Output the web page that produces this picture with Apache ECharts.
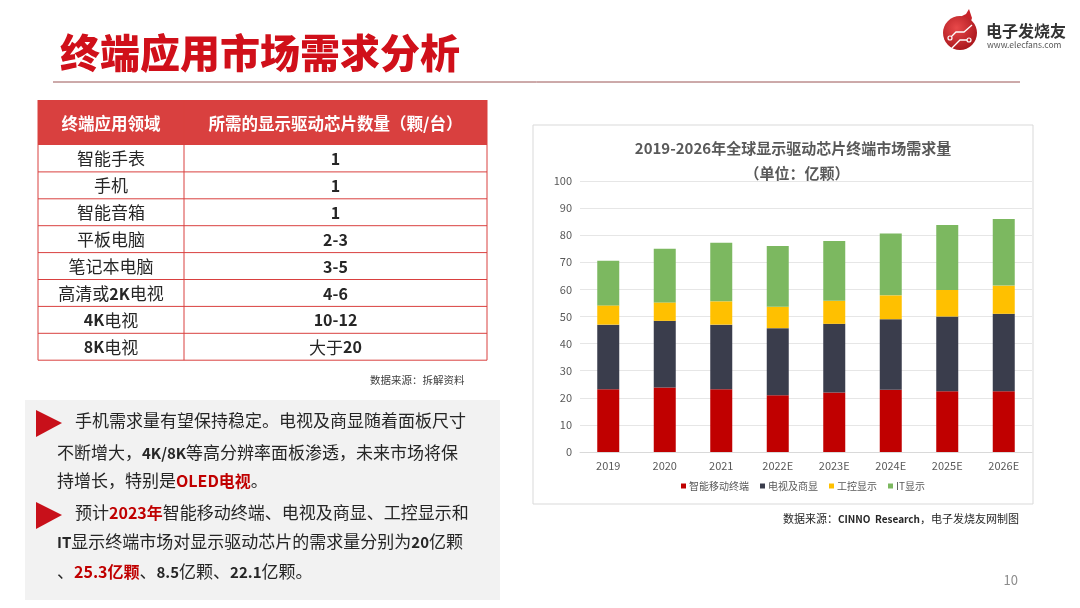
<!DOCTYPE html>
<html>
<head>
<meta charset="utf-8">
<script src="https://cdn.jsdelivr.net/npm/echarts@6/dist/echarts.min.js"></script>
<style>
html,body{margin:0;padding:0;background:#fff;}
#main{width:1080px;height:608px;}
</style>
</head>
<body>
<div id="main"></div>
<script>
// ---- chart data ----
const categories = ['2019', '2020', '2021', '2022E', '2023E', '2024E', '2025E', '2026E'];
const seriesNames = ['智能移动终端', '电视及商显', '工控显示', 'IT显示'];
const mobileTerminal = [23.2, 23.8, 23.2, 20.9, 22.0, 23.0, 22.4, 22.4];
const tvCommercial = [23.8, 24.6, 23.8, 24.8, 25.3, 26.0, 27.6, 28.6];
const industrialDisplay = [7.1, 6.8, 8.6, 7.9, 8.5, 8.8, 9.8, 10.4];
const itDisplay = [16.5, 19.8, 21.6, 22.4, 22.1, 22.8, 24.0, 24.6];
const yTicks = [0, 10, 20, 30, 40, 50, 60, 70, 80, 90, 100];

// ---- table data ----
const tableHeader = ['终端应用领域', '所需的显示驱动芯片数量（颗/台）'];
const tableApps = ['智能手表', '手机', '智能音箱', '平板电脑', '笔记本电脑', '高清或2K电视', '4K电视', '8K电视'];
const tableChips = ['1', '1', '1', '2-3', '3-5', '4-6', '10-12', '大于20'];

const FONT = '"Noto Sans CJK SC", "Noto Sans", sans-serif';
const RED = '#c00000';
const TXT = '#262626';

function richRuns(str) {
  return str.replace(/([A-Za-z0-9\-\.\/]+)|([^A-Za-z0-9\-\.\/]+)/g, function (m, a, b) {
    return a ? '{b|' + a + '}' : '{r|' + b + '}';
  });
}

const graphics = [];

// slide title
graphics.push({
  type: 'text', style: {
    text: '终端应用市场需求分析', x: 60, y: 53, verticalAlign: 'middle',
    fill: '#d0101a', fontSize: 40, fontWeight: 900, fontFamily: FONT
  }
});
graphics.push({
  type: 'line', shape: { x1: 53, y1: 82, x2: 1020, y2: 82 },
  style: { stroke: '#9a5555', lineWidth: 1 }
});

// logo
graphics.push({
  type: 'polygon', shape: { points: [[962, 16], [966, 14], [969, 9], [972, 18], [970, 24], [960, 18]] },
  style: { fill: '#c8242a' }
});
graphics.push({
  type: 'circle', shape: { cx: 960, cy: 33, r: 17 },
  style: {
    fill: {
      type: 'radial', x: 0.4, y: 0.35, r: 0.7,
      colorStops: [{ offset: 0, color: '#e8494a' }, { offset: 1, color: '#a8141a' }]
    }
  }
});
graphics.push({
  type: 'polyline', shape: { points: [[950, 38], [956, 32], [964, 32], [972, 25]] },
  style: { stroke: '#fff', lineWidth: 1.3, fill: null }
});
graphics.push({
  type: 'polyline', shape: { points: [[952, 48], [960, 40], [968, 40]] },
  style: { stroke: '#fff', lineWidth: 1.3, fill: null }
});
graphics.push({ type: 'circle', shape: { cx: 950, cy: 38, r: 2 }, style: { fill: '#c8242a', stroke: '#fff', lineWidth: 1.2 } });
graphics.push({ type: 'circle', shape: { cx: 969, cy: 40, r: 2 }, style: { fill: '#c8242a', stroke: '#fff', lineWidth: 1.2 } });
graphics.push({
  type: 'text', style: {
    text: '电子发烧友', x: 986, y: 31, verticalAlign: 'middle',
    fill: '#333', fontSize: 16, fontWeight: 'bold', fontFamily: FONT
  }
});
graphics.push({
  type: 'text', style: {
    text: 'www.elecfans.com', x: 987, y: 45, verticalAlign: 'middle',
    fill: '#555', fontSize: 8.5, fontFamily: FONT
  }
});

// table
const tL = 38, tR = 487, tMid = 184, hTop = 100, hBot = 145, rowH = 26.9;
graphics.push({ type: 'rect', shape: { x: tL, y: hTop, width: tR - tL, height: hBot - hTop }, style: { fill: '#d9403f' } });
graphics.push({
  type: 'text', style: {
    text: tableHeader[0], x: (tL + tMid) / 2, y: (hTop + hBot) / 2 + 1, align: 'center', verticalAlign: 'middle',
    fill: '#fff', fontSize: 16.5, fontWeight: 'bold', fontFamily: FONT
  }
});
graphics.push({
  type: 'text', style: {
    text: tableHeader[1], x: (tMid + tR) / 2, y: (hTop + hBot) / 2 + 1, align: 'center', verticalAlign: 'middle',
    fill: '#fff', fontSize: 16.5, fontWeight: 'bold', fontFamily: FONT
  }
});
const richCell = {
  r: { fontSize: 17, fontFamily: FONT, fill: TXT, color: TXT },
  b: { fontSize: 16, fontFamily: FONT, fontWeight: 'bold', fill: TXT, color: TXT }
};
for (let i = 0; i < tableApps.length; i++) {
  const yTop = hBot + i * rowH;
  const cy = yTop + rowH / 2 + 0.5;
  graphics.push({
    type: 'text', style: {
      text: richRuns(tableApps[i]), rich: richCell, x: (tL + tMid) / 2, y: cy,
      align: 'center', verticalAlign: 'middle'
    }
  });
  graphics.push({
    type: 'text', style: {
      text: richRuns(tableChips[i]), rich: richCell, x: (tMid + tR) / 2, y: cy,
      align: 'center', verticalAlign: 'middle'
    }
  });
  graphics.push({
    type: 'line', shape: { x1: tL, y1: yTop + rowH, x2: tR, y2: yTop + rowH },
    style: { stroke: '#d9403f', lineWidth: 1 }
  });
}
const tBot = hBot + tableApps.length * rowH;
[tL, tMid, tR].forEach(function (x) {
  graphics.push({ type: 'line', shape: { x1: x, y1: hTop, x2: x, y2: tBot }, style: { stroke: '#d9403f', lineWidth: 1 } });
});
graphics.push({
  type: 'text', style: {
    text: '数据来源：拆解资料', x: 370, y: 380, verticalAlign: 'middle',
    fill: '#404040', fontSize: 10.5, fontFamily: FONT
  }
});

// text box
graphics.push({ type: 'rect', shape: { x: 25, y: 400, width: 475, height: 200 }, style: { fill: '#f2f2f2' } });
graphics.push({ type: 'polygon', shape: { points: [[36, 410], [62, 423], [36, 437]] }, style: { fill: '#c8101a' } });
graphics.push({ type: 'polygon', shape: { points: [[36, 502], [62, 515], [36, 529]] }, style: { fill: '#c8101a' } });
const richPara = {
  n: { fontSize: 17, fontFamily: FONT, fill: TXT },
  b: { fontSize: 15, fontFamily: FONT, fill: TXT, fontWeight: 'bold' },
  red: { fontSize: 16, fontFamily: FONT, fill: RED, fontWeight: 'bold' }
};
const paraLines = [
  [75, 421, '{n|手机需求量有望保持稳定。电视及商显随着面板尺寸}'],
  [57, 453, '{n|不断增大，}{b|4K/8K}{n|等高分辨率面板渗透，未来市场将保}'],
  [57, 481, '{n|持增长，特别是}{red|OLED电视}{n|。}'],
  [75, 513, '{n|预计}{red|2023年}{n|智能移动终端、电视及商显、工控显示和}'],
  [57, 542, '{b|IT}{n|显示终端市场对显示驱动芯片的需求量分别为}{b|20}{n|亿颗}'],
  [57, 572, '{n|、}{red|25.3亿颗}{n|、}{b|8.5}{n|亿颗、}{b|22.1}{n|亿颗。}']
];
paraLines.forEach(function (l) {
  graphics.push({ type: 'text', style: { text: l[2], rich: richPara, x: l[0], y: l[1], verticalAlign: 'middle' } });
});

// chart frame + notes
graphics.push({ type: 'rect', z: -10, shape: { x: 533, y: 125, width: 500, height: 379 }, style: { fill: 'none', stroke: '#d9d9d9', lineWidth: 1 } });
graphics.push({
  type: 'text', style: {
    text: '{n|数据来源：}{b|CINNO  Research}{n|，电子发烧友网制图}',
    rich: {
      n: { fontSize: 11, fontFamily: FONT, fill: TXT },
      b: { fontSize: 10, fontFamily: FONT, fill: TXT, fontWeight: 'bold' }
    },
    x: 1019, y: 519, align: 'right', verticalAlign: 'middle'
  }
});
graphics.push({
  type: 'text', style: {
    text: '10', x: 1018, y: 580, align: 'right', verticalAlign: 'middle',
    fill: '#8c8c8c', fontSize: 13, fontFamily: FONT
  }
});

const chart = echarts.init(document.getElementById('main'), null, { renderer: 'canvas' });
const colors = ['#c00000', '#3a3d4c', '#ffc000', '#7cb860'];
const dataSets = [mobileTerminal, tvCommercial, industrialDisplay, itDisplay];

chart.setOption({
  animation: false,
  backgroundColor: '#ffffff',
  textStyle: { fontFamily: FONT },
  color: colors,
  title: [
    {
      text: '2019-2026年全球显示驱动芯片终端市场需求量', left: 793, top: 141, textAlign: 'center', padding: 0,
      textStyle: { fontSize: 15, fontWeight: 'bold', color: '#595959', fontFamily: FONT }
    },
    {
      text: '（单位：亿颗）', left: 797, top: 166, textAlign: 'center', padding: 0,
      textStyle: { fontSize: 15, fontWeight: 'bold', color: '#595959', fontFamily: FONT }
    }
  ],
  legend: {
    data: seriesNames, left: 676, top: 476, icon: 'rect', itemWidth: 5, itemHeight: 5, itemGap: 11,
    textStyle: { fontSize: 10, color: '#595959', padding: [0, 0, 0, -2] }
  },
  grid: { left: 580, right: 48, top: 181, bottom: 156, containLabel: false },
  xAxis: {
    type: 'category', data: categories,
    axisLine: { lineStyle: { color: '#d9d9d9' } }, axisTick: { show: false },
    axisLabel: { color: '#595959', fontSize: 11, margin: 8 }
  },
  yAxis: {
    type: 'value', min: yTicks[0], max: yTicks[yTicks.length - 1], interval: yTicks[1] - yTicks[0],
    axisLine: { show: false }, axisTick: { show: false },
    axisLabel: { color: '#595959', fontSize: 11, margin: 8 },
    splitLine: { lineStyle: { color: '#e6e6e6' } }
  },
  series: seriesNames.map(function (n, i) {
    return { name: n, type: 'bar', stack: 'total', barWidth: 22, data: dataSets[i] };
  }),
  graphic: graphics
});
</script>
</body>
</html>
